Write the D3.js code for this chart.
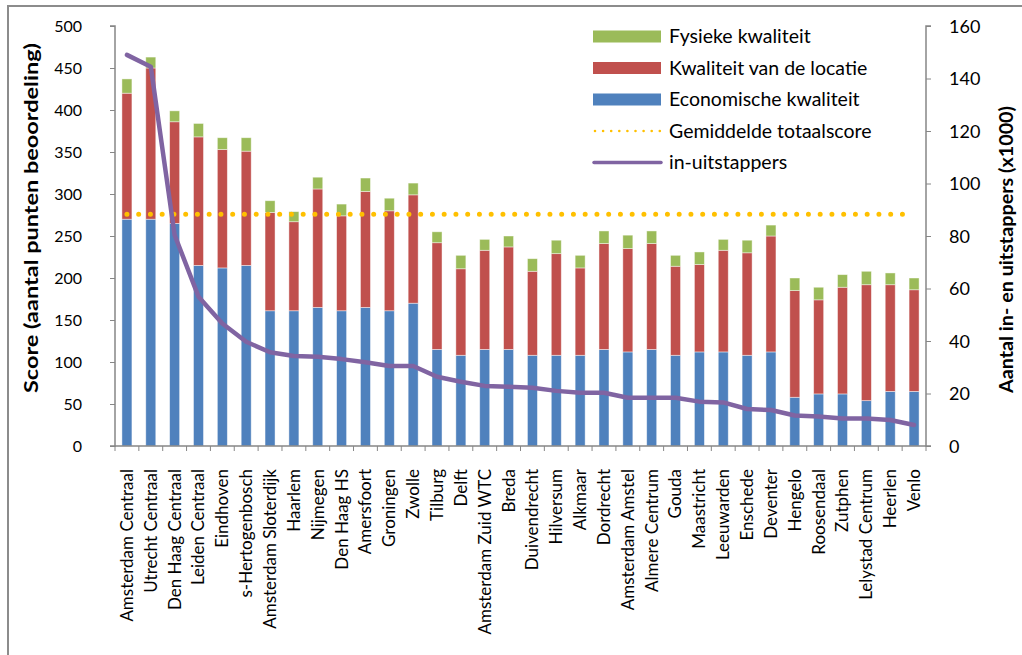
<!DOCTYPE html>
<html><head><meta charset="utf-8">
<script src="https://cdn.jsdelivr.net/npm/d3@7"></script>
<style>
html,body{margin:0;padding:0;background:#fff;}
text{font-family:Lato,"Open Sans",sans-serif;fill:#000;}
</style></head>
<body><svg id="c" width="1022" height="655"></svg>
<script>
const categories = ["Amsterdam Centraal","Utrecht Centraal","Den Haag Centraal","Leiden Centraal","Eindhoven","s-Hertogenbosch","Amsterdam Sloterdijk","Haarlem","Nijmegen","Den Haag HS","Amersfoort","Groningen","Zwolle","Tilburg","Delft","Amsterdam Zuid WTC","Breda","Duivendrecht","Hilversum","Alkmaar","Dordrecht","Amsterdam Amstel","Almere Centrum","Gouda","Maastricht","Leeuwarden","Enschede","Deventer","Hengelo","Roosendaal","Zutphen","Lelystad Centrum","Heerlen","Venlo"];
const economisch = [270,270,265,215,212,215,161,161,165,161,165,161,170,115,108,115,115,108,108,108,115,112,115,108,112,112,108,112,58,62,62,54,65,65];
const locatie = [150,180,121,153,141,136,117,106,141,113,138,119,129,127,103,118,122,100,121,104,126,123,126,106,104,121,122,138,127,112,127,138,127,121];
const fysiek = [17,13,13,16,14,16,14,12,14,14,16,15,14,13,16,13,13,15,16,15,15,16,15,13,15,13,15,13,15,15,15,16,14,14];
const gemiddelde = 276;
const passagiers = [149,144.5,80.4,56.9,46.7,39.7,35.7,34.3,34,33.1,31.9,30.5,30.5,26.4,24.5,22.9,22.6,22.2,21,20.3,20.3,18.4,18.4,18.4,16.9,16.6,14.1,13.7,11.6,11.2,10.5,10.5,9.9,8];
const leftTicks = [0,50,100,150,200,250,300,350,400,450,500];
const rightTicks = [0,20,40,60,80,100,120,140,160];
const seriesNames = ["Fysieke kwaliteit","Kwaliteit van de locatie","Economische kwaliteit","Gemiddelde totaalscore","in-uitstappers"];

const C = {blue:"#4F81BD", red:"#C0504D", green:"#9BBB59", purple:"#8064A2", orange:"#FFC000", axis:"#868686"};
const svg = d3.select("#c");
const L = 115, R = 926, T = 26, B = 446;

// outer chart border
svg.append("rect").attr("x",8).attr("y",6).attr("width",1040).attr("height",700)
  .attr("fill","none").attr("stroke","#8c8c8c").attr("stroke-width",2);

const x = d3.scaleBand().domain(categories).range([L,R]).paddingInner(0).paddingOuter(0);
const y = d3.scaleLinear().domain([0,500]).range([B,T]);
const y2 = d3.scaleLinear().domain([0,160]).range([B,T]);
const bw = 10;

const data = categories.map((c,i)=>({c, e:economisch[i], l:locatie[i], f:fysiek[i]}));
const stack = d3.stack().keys(["e","l","f"])(data);
const colors = {e:C.blue, l:C.red, f:C.green};

const g = svg.append("g");
stack.forEach(layer=>{
  g.selectAll(null).data(layer).enter().append("rect")
    .attr("x",d=>x(d.data.c)+x.bandwidth()/2-bw/2)
    .attr("width",bw)
    .attr("y",d=>y(d[1]))
    .attr("height",d=>y(d[0])-y(d[1]))
    .attr("fill",colors[layer.key])
    .attr("stroke","rgba(255,255,255,0.55)").attr("stroke-width",0.8);
});

// average dotted line
const cx = c=>x(c)+x.bandwidth()/2;
svg.append("line")
  .attr("x1",cx(categories[0])).attr("x2",cx(categories[categories.length-1]))
  .attr("y1",y(gemiddelde)).attr("y2",y(gemiddelde))
  .attr("stroke",C.orange).attr("stroke-width",5).attr("stroke-linecap","round")
  .attr("stroke-dasharray","0 11.75");

// passenger line
const line = d3.line().x((d,i)=>cx(categories[i])).y(d=>y2(d));
svg.append("path").datum(passagiers).attr("d",line)
  .attr("fill","none").attr("stroke",C.purple).attr("stroke-width",4.5)
  .attr("stroke-linejoin","round").attr("stroke-linecap","round");

// left axis
const ax = d3.axisLeft(y).tickValues(leftTicks).tickSize(5).tickPadding(28);
const gl = svg.append("g").attr("transform",`translate(${L},0)`).call(ax);
gl.selectAll("text").style("font-size","16px").attr("dy","0.35em");
// right axis
const ar = d3.axisRight(y2).tickValues(rightTicks).tickSize(5).tickPadding(18);
const gr = svg.append("g").attr("transform",`translate(${R},0)`).call(ar);
gr.selectAll("text").style("font-size","18px").attr("dy","0.35em");
// x axis
const axb = d3.axisBottom(x).tickSize(0).tickPadding(0);
const gb = svg.append("g").attr("transform",`translate(0,${B})`).call(axb);
gb.selectAll("text").style("font-size","17px")
  .attr("text-anchor","end").attr("transform","rotate(-90)")
  .attr("x",-23).attr("y",0).attr("dy","0.35em").attr("dx",0);
// x ticks at band boundaries
gb.selectAll(".tk").data(d3.range(categories.length+1)).enter().append("line")
  .attr("x1",i=>L+i*x.bandwidth()).attr("x2",i=>L+i*x.bandwidth())
  .attr("y1",0).attr("y2",5).attr("stroke",C.axis);

[gl,gr,gb].forEach(a=>{
  a.selectAll(".domain").attr("stroke",C.axis).attr("stroke-width",1.5);
  a.selectAll(".tick line").attr("stroke",C.axis);
  a.selectAll("text").style("font-family","Lato, sans-serif").attr("fill","#000");
});
gr.select(".domain").attr("d",`M5,${T}H0V${B}H5`);
gl.select(".domain").attr("d",`M-5,${T}H0V${B}H-5`);
gb.select(".domain").attr("d",`M${L},0H${R}`);

// axis titles
svg.append("text").attr("transform","translate(38,393) rotate(-90)")
  .attr("text-anchor","start").style("font-size","19px").style("font-weight","bold")
  .attr("textLength",350).attr("lengthAdjust","spacingAndGlyphs")
  .text("Score (aantal punten beoordeling)");
svg.append("text").attr("transform","translate(1013,393) rotate(-90)")
  .attr("text-anchor","start").style("font-size","18px").style("font-weight","bold")
  .attr("textLength",287).attr("lengthAdjust","spacingAndGlyphs")
  .text("Aantal in- en uitstappers (x1000)");

// legend
const ly = [36.5,68,99.5,131,162.5];
const lg = svg.append("g");
[C.green,C.red,C.blue].forEach((col,i)=>{
  lg.append("rect").attr("x",593).attr("y",ly[i]-6).attr("width",68).attr("height",12).attr("fill",col);
});
lg.append("line").attr("x1",595).attr("x2",660).attr("y1",ly[3]).attr("y2",ly[3])
  .attr("stroke",C.orange).attr("stroke-width",2.6).attr("stroke-linecap","round").attr("stroke-dasharray","0 8.1");
lg.append("line").attr("x1",594).attr("x2",661).attr("y1",ly[4]).attr("y2",ly[4])
  .attr("stroke",C.purple).attr("stroke-width",3.5).attr("stroke-linecap","round");
seriesNames.forEach((n,i)=>{
  lg.append("text").attr("x",669).attr("y",ly[i]).attr("dy","0.35em").style("font-size","19.5px").text(n);
});
</script></body></html>
